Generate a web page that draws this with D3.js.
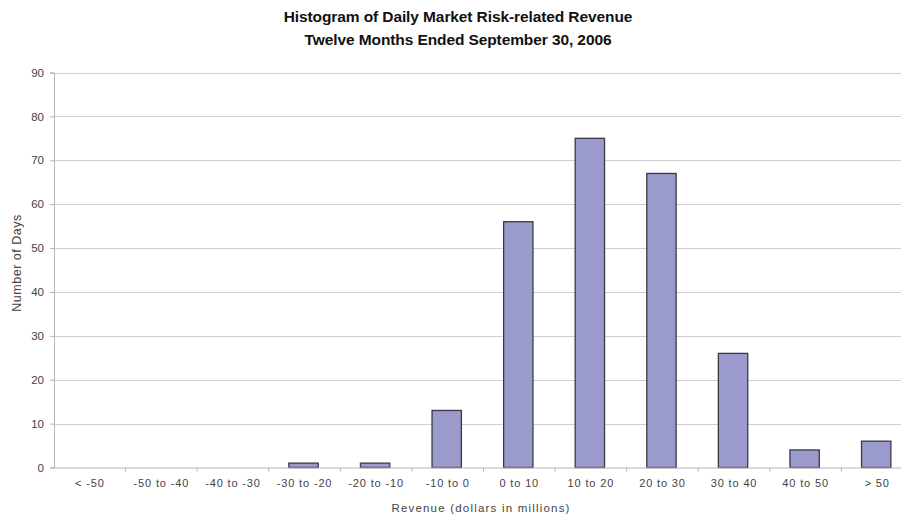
<!DOCTYPE html>
<html>
<head>
<meta charset="utf-8">
<script src="https://cdn.jsdelivr.net/npm/d3@7/dist/d3.min.js"></script>
<style>
  body { margin: 0; background: #fff; }
  svg { display: block; font-family: "Liberation Sans", Arial, Helvetica, sans-serif; }
</style>
</head>
<body>
<div id="chart"></div>
<script>
const categories = ["< -50", "-50 to -40", "-40 to -30", "-30 to -20", "-20 to -10", "-10 to 0",
  "0 to 10", "10 to 20", "20 to 30", "30 to 40", "40 to 50", "> 50"];
const days = [0, 0, 0, 1, 1, 13, 56, 75, 67, 26, 4, 6];
const yTicks = [0, 10, 20, 30, 40, 50, 60, 70, 80, 90];
const titleLines = ["Histogram of Daily Market Risk-related Revenue", "Twelve Months Ended September 30, 2006"];

const width = 901;
const height = 517;
const plotLeft = 54, plotTop = 72.5, plotBottom = 467.5, plotRight = 913;

const svg = d3
  .select("#chart")
  .append("svg")
  .attr("width", width)
  .attr("height", height);

const x = d3.scaleBand().domain(categories).range([plotLeft, plotRight]).padding(0);
const y = d3.scaleLinear().domain([0, 90]).range([plotBottom, plotTop]);

// title
svg
  .selectAll(".title")
  .data(titleLines)
  .join("text")
  .attr("x", 458)
  .attr("y", (d, i) => 22 + i * 23)
  .attr("text-anchor", "middle")
  .attr("font-weight", "bold")
  .attr("font-size", 15.5)
  .attr("letter-spacing", "-0.1px")
  .attr("fill", "#111")
  .text((d) => d);

// gridlines
svg
  .selectAll(".grid")
  .data(yTicks.filter((d) => d > 0))
  .join("line")
  .attr("x1", plotLeft)
  .attr("x2", width)
  .attr("y1", (d) => Math.round(y(d)) + 0.5)
  .attr("y2", (d) => Math.round(y(d)) + 0.5)
  .attr("stroke", "#cfcfcf")
  .attr("stroke-width", 1.2);

// y axis
const yAxis = svg
  .append("g")
  .attr("transform", `translate(${plotLeft},0)`)
  .call(d3.axisLeft(y).tickValues(yTicks).tickSize(4).tickPadding(6));
yAxis.select(".domain").attr("stroke", "#b5b5b5");
yAxis.selectAll(".tick line").attr("stroke", "#b5b5b5");
yAxis
  .selectAll(".tick text")
  .attr("font-size", 11.5)
  .attr("fill", "#444")
  .attr("font-family", "Liberation Sans, Arial, sans-serif");

// bars
const barW = x.bandwidth() * 0.41;
svg
  .selectAll(".bar")
  .data(days.map((v, i) => ({ cat: categories[i], v })).filter((d) => d.v > 0))
  .join("rect")
  .attr("x", (d) => x(d.cat) + (x.bandwidth() - barW) / 2 - 1)
  .attr("y", (d) => y(d.v))
  .attr("width", barW)
  .attr("height", (d) => plotBottom - y(d.v))
  .attr("fill", "#9a9acc")
  .attr("stroke", "#3a3a44")
  .attr("stroke-width", 1.3);

// x axis
const xAxis = svg
  .append("g")
  .attr("transform", `translate(0,${plotBottom})`)
  .call(d3.axisBottom(x).tickSize(0).tickPadding(12));
xAxis.select(".domain").attr("stroke", "#b5b5b5").attr("stroke-width", 1.2);
xAxis
  .selectAll(".tick text")
  .attr("font-size", 11)
  .attr("letter-spacing", "0.85px")
  .attr("fill", "#444")
  .attr("font-family", "Liberation Sans, Arial, sans-serif");

// boundary tick marks between categories
xAxis
  .selectAll(".sep")
  .data(categories.slice(1))
  .join("line")
  .attr("x1", (d) => x(d))
  .attr("x2", (d) => x(d))
  .attr("y1", 0)
  .attr("y2", 4)
  .attr("stroke", "#b5b5b5");

// axis titles
svg
  .append("text")
  .attr("x", 481)
  .attr("y", 512)
  .attr("text-anchor", "middle")
  .attr("font-size", 11.5)
  .attr("letter-spacing", "1.2px")
  .attr("fill", "#444")
  .text("Revenue (dollars in millions)");

svg
  .append("text")
  .attr("transform", "translate(21,263) rotate(-90)")
  .attr("text-anchor", "middle")
  .attr("font-size", 12.5)
  .attr("letter-spacing", "0.5px")
  .attr("fill", "#444")
  .text("Number of Days");
</script>
</body>
</html>
